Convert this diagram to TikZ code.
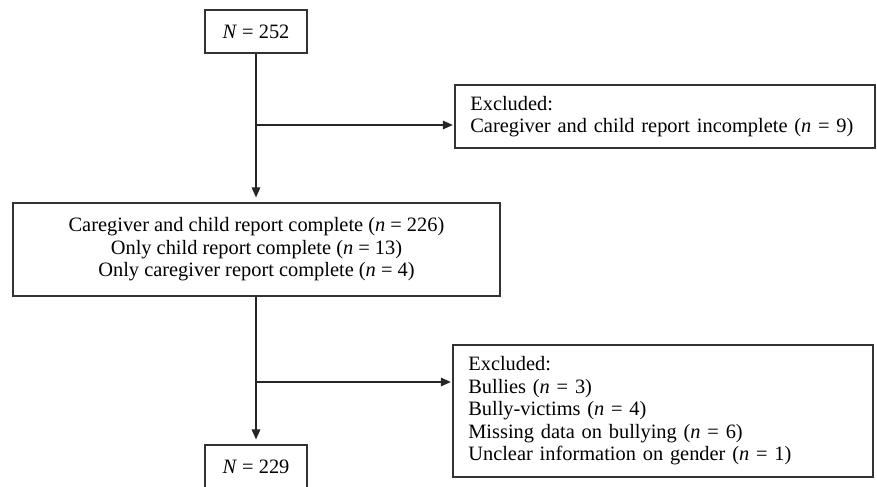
\documentclass[tikz,border=0pt]{standalone}
\usepackage{fontspec}
\setmainfont{Liberation Serif}
\usetikzlibrary{arrows.meta}
\begin{document}
\begin{tikzpicture}[x=0.75pt,y=-0.75pt,
  box/.style={draw=black!80,line width=0.9pt,inner sep=0pt,font=\fontsize{15.3}{16.9}\selectfont},
  arr/.style={draw=black!85,line width=0.8pt,-{Triangle[length=7.5pt,width=6.5pt]}},
  ln/.style={draw=black!85,line width=0.8pt}]
\useasboundingbox (0,0) rectangle (877,486);
\clip (0,0) rectangle (877,486);
\node[box,minimum width=76.5pt,minimum height=32.25pt] (top) at (256,31.5) {\textit{N} = 252};
\node[box,minimum width=365.25pt,minimum height=69.75pt,align=center] (b2) at (256.5,249.5)
  {Caregiver and child report complete (\textit{n} = 226)\\Only child report complete (\textit{n} = 13)\\Only caregiver report complete (\textit{n} = 4)};
\node[box,minimum width=315pt,minimum height=47.25pt,align=left,text width=292pt,inner xsep=11.5pt] (ex1) at (665,116.5)
  {Excluded:\\Caregiver and child report incomplete (\textit{n} = 9)};
\node[box,minimum width=315pt,minimum height=99pt,align=left,text width=292pt,inner xsep=11.5pt] (ex2) at (663,411)
  {Excluded:\\Bullies (\textit{n} = 3)\\Bully-victims (\textit{n} = 4)\\Missing data on bullying (\textit{n} = 6)\\Unclear information on gender (\textit{n} = 1)};
\node[box,minimum width=76.5pt,minimum height=33pt] (b3) at (256,467) {\textit{N} = 229};
\coordinate (j1) at (256,125);
\coordinate (j2) at (256,382);
\draw[arr,shorten >=3.75pt] (top.south) -- (top.south |- b2.north);
\draw[arr,shorten >=1.2pt] (j1) -- (j1 -| ex1.west);
\draw[arr,shorten >=3.75pt] (b2.south -| b3.north) -- (b3.north);
\draw[arr,shorten >=1.2pt] (j2) -- (j2 -| ex2.west);
\end{tikzpicture}
\end{document}
